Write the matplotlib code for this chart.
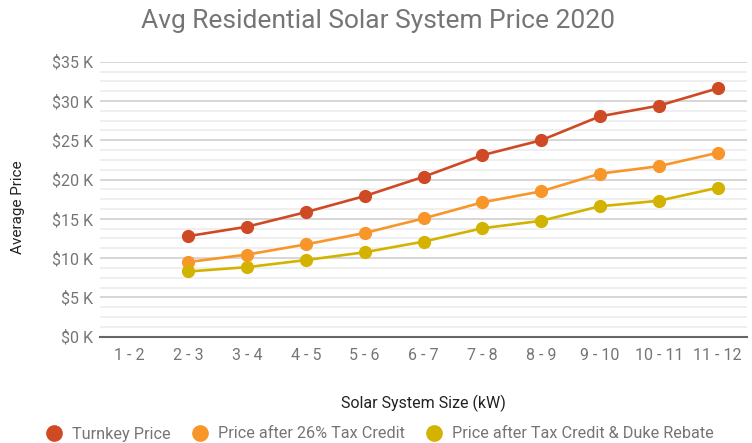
import matplotlib
matplotlib.use('Agg')
import matplotlib.pyplot as plt
from matplotlib.ticker import MultipleLocator, FuncFormatter
from matplotlib.lines import Line2D
import numpy as np

# data (in $K), first size bucket has no values
sizes = ['1 - 2', '2 - 3', '3 - 4', '4 - 5', '5 - 6', '6 - 7',
         '7 - 8', '8 - 9', '9 - 10', '10 - 11', '11 - 12']
turnkey = [np.nan, 12.8, 14.0, 15.85, 17.9, 20.35, 23.1, 25.0, 28.05, 29.4, 31.6]
after_tax = [np.nan, 9.5, 10.45, 11.75, 13.2, 15.05, 17.1, 18.5, 20.75, 21.7, 23.4]
after_rebate = [np.nan, 8.3, 8.85, 9.75, 10.75, 12.1, 13.8, 14.75, 16.6, 17.3, 18.95]

series_names = ['Turnkey Price', 'Price after 26% Tax Credit',
                'Price after Tax Credit & Duke Rebate']
colors = ['#cf4a24', '#f8962a', '#d4b200']

plt.rcParams['font.family'] = ['Roboto', 'DejaVu Sans']

fig = plt.figure(figsize=(7.52, 4.43), dpi=100)
ax = fig.add_axes([100 / 752, 1 - 336.7 / 443, 647 / 752, 275 / 443])

x = np.arange(len(sizes))
for vals, c in zip([turnkey, after_tax, after_rebate], colors):
    ax.plot(x, vals, color=c, lw=1.9, marker='o', markersize=8.5, zorder=3)

ax.set_xlim(-0.5, len(sizes) - 0.5)
ax.set_ylim(0, 35)
ax.set_xticks(x)
ax.set_xticklabels(sizes)
ax.yaxis.set_major_locator(MultipleLocator(5))
ax.yaxis.set_minor_locator(MultipleLocator(1.25))
ax.yaxis.set_major_formatter(FuncFormatter(lambda v, p: f'${v:.0f} K'))

# grid
ax.grid(axis='y', which='major', color='#cccccc', lw=1.1)
ax.grid(axis='y', which='minor', color='#ebebeb', lw=1.1)
ax.set_axisbelow(True)
for s in ['top', 'right', 'left']:
    ax.spines[s].set_visible(False)
ax.spines['bottom'].set_color('#666666')
ax.spines['bottom'].set_linewidth(1.5)
ax.tick_params(axis='both', which='both', length=0, labelsize=11.5, colors='#757575')
ax.tick_params(axis='y', pad=5)
ax.tick_params(axis='x', pad=8)

ax.set_xlabel('Solar System Size (kW)', fontsize=11.5, color='#222222', labelpad=23)
ax.set_ylabel('Average Price', fontsize=11, color='#222222')
ax.yaxis.set_label_coords(-75 / 647, (336.7 - 207.5) / 275)

fig.text(378 / 752, 1 - 27.7 / 443, 'Avg Residential Solar System Price 2020',
         ha='center', va='baseline', fontsize=19, color='#757575')

handles = [Line2D([], [], ls='', marker='o', markersize=11, color=c) for c in colors]
fig.legend(handles, series_names, loc='center', bbox_to_anchor=(380 / 752, 1 - 434 / 443),
           ncol=3, frameon=False, fontsize=11.7, labelcolor='#757575',
           handletextpad=0.6, columnspacing=1.3, handlelength=1.0)

plt.savefig('out.png', dpi=100)
